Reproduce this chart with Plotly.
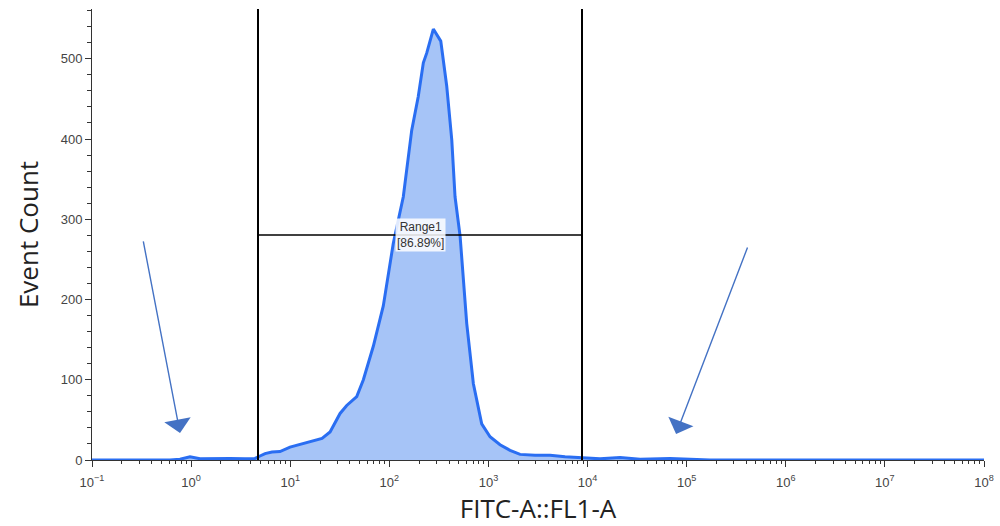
import math
import plotly.graph_objects as go

# FITC-A::FL1-A histogram trace (log10 intensity, event count)
fitc_log = [-1.0, -0.516, -0.213, -0.112, -0.011, 0.090, 0.241, 0.393, 0.544, 0.645,
            0.695, 0.746, 0.816, 0.897, 0.998, 1.069, 1.149, 1.250, 1.321, 1.402,
            1.503, 1.570, 1.671, 1.738, 1.839, 1.939, 2.040, 2.141, 2.226, 2.292,
            2.343, 2.377, 2.444, 2.519, 2.579, 2.630, 2.663, 2.714, 2.781, 2.848,
            2.932, 3.016, 3.117, 3.218, 3.319, 3.470, 3.622, 3.773, 3.944, 4.126,
            4.328, 4.530, 4.832, 5.034, 5.236, 8.0]
event_count = [0, 0, 0, 1, 4, 1.5, 2, 2, 1.5, 2,
               5, 8, 10, 10.5, 16, 18.5, 21, 25, 27, 35,
               58, 68, 79, 100, 142, 192, 270, 328, 411, 453,
               495, 507, 537, 522, 466, 399, 328, 279, 170, 95,
               45, 29, 19, 12, 7, 6, 6, 4, 3, 1.5,
               3, 1, 2, 1, 0, 0]
fitc = [10 ** v for v in fitc_log]

# Range gate
gate_low = 4.73
gate_high = 8790
gate_level = 280.5
gate_name = "Range1"
gate_pct = "86.89%"

y_max = 562
x_tick_exp = [-1, 0, 1, 2, 3, 4, 5, 6, 7, 8]
y_ticks = [0, 100, 200, 300, 400, 500]

fig = go.Figure()

fig.add_trace(go.Scatter(
    x=fitc, y=event_count, mode="lines",
    line=dict(color="#2a6ef2", width=3),
    fill="tozeroy", fillcolor="rgba(166,196,247,1)",
    hoverinfo="skip", showlegend=False,
))

# gate boundaries
for gx in (gate_low, gate_high):
    fig.add_trace(go.Scatter(
        x=[gx, gx], y=[0, y_max], mode="lines",
        line=dict(color="black", width=2), showlegend=False, hoverinfo="skip",
    ))
fig.add_trace(go.Scatter(
    x=[gate_low, gate_high], y=[gate_level, gate_level], mode="lines",
    line=dict(color="black", width=1.5), showlegend=False, hoverinfo="skip",
))

mid = (math.log10(gate_low) + math.log10(gate_high)) / 2
fig.add_annotation(
    x=mid, y=gate_level, xref="x", yref="y",
    text=f"{gate_name}<br>[{gate_pct}]", showarrow=False,
    font=dict(family="Liberation Sans, Arial", size=12, color="#333"),
    bgcolor="rgba(255,255,255,0.85)", borderpad=1,
)

# arrows pointing at the low-level tails
arrow_style = dict(showarrow=True, arrowhead=1, arrowsize=3.2, arrowwidth=1.4,
                   arrowcolor="#4472c4", xref="x", yref="y", text="")
fig.add_annotation(x=math.log10(0.773), y=33.7, ax=-37, ay=-193, **arrow_style)
fig.add_annotation(x=math.log10(78200), y=32.4, ax=72, ay=-188, **arrow_style)

fig.update_xaxes(
    type="log", range=[-1, 8], automargin=False,
    tickvals=[10 ** e for e in x_tick_exp],
    ticktext=[f"10<sup>{'−1' if e < 0 else e}</sup>" for e in x_tick_exp],
    ticks="outside", ticklen=6, tickcolor="#333", ticklabelstandoff=4,
    minor=dict(ticks="outside", ticklen=3, tickcolor="#333", dtick="D1", showgrid=False),
    showline=True, linecolor="#333", linewidth=1,
    showgrid=False, zeroline=False,
    tickfont=dict(family="Liberation Sans, Arial", size=13, color="#444"),
    title=dict(text="FITC-A::FL1-A", font=dict(family="Open Sans", size=26, color="#222"),
               standoff=6),
)
fig.update_yaxes(
    range=[0, y_max], automargin=False, tickvals=y_ticks,
    ticks="outside", ticklen=6, tickcolor="#333",
    minor=dict(ticks="outside", ticklen=4, tickcolor="#333", dtick=20, showgrid=False),
    showline=True, linecolor="#333", linewidth=1,
    showgrid=False, zeroline=False,
    tickfont=dict(family="Liberation Sans, Arial", size=13, color="#444"),
    title=dict(text="Event Count", font=dict(family="Open Sans", size=26, color="#222"),
               standoff=14),
)

fig.update_layout(
    width=1000, height=526,
    margin=dict(l=92, r=16, t=9, b=66),
    plot_bgcolor="white", paper_bgcolor="white",
)

fig.write_html("out.html")
